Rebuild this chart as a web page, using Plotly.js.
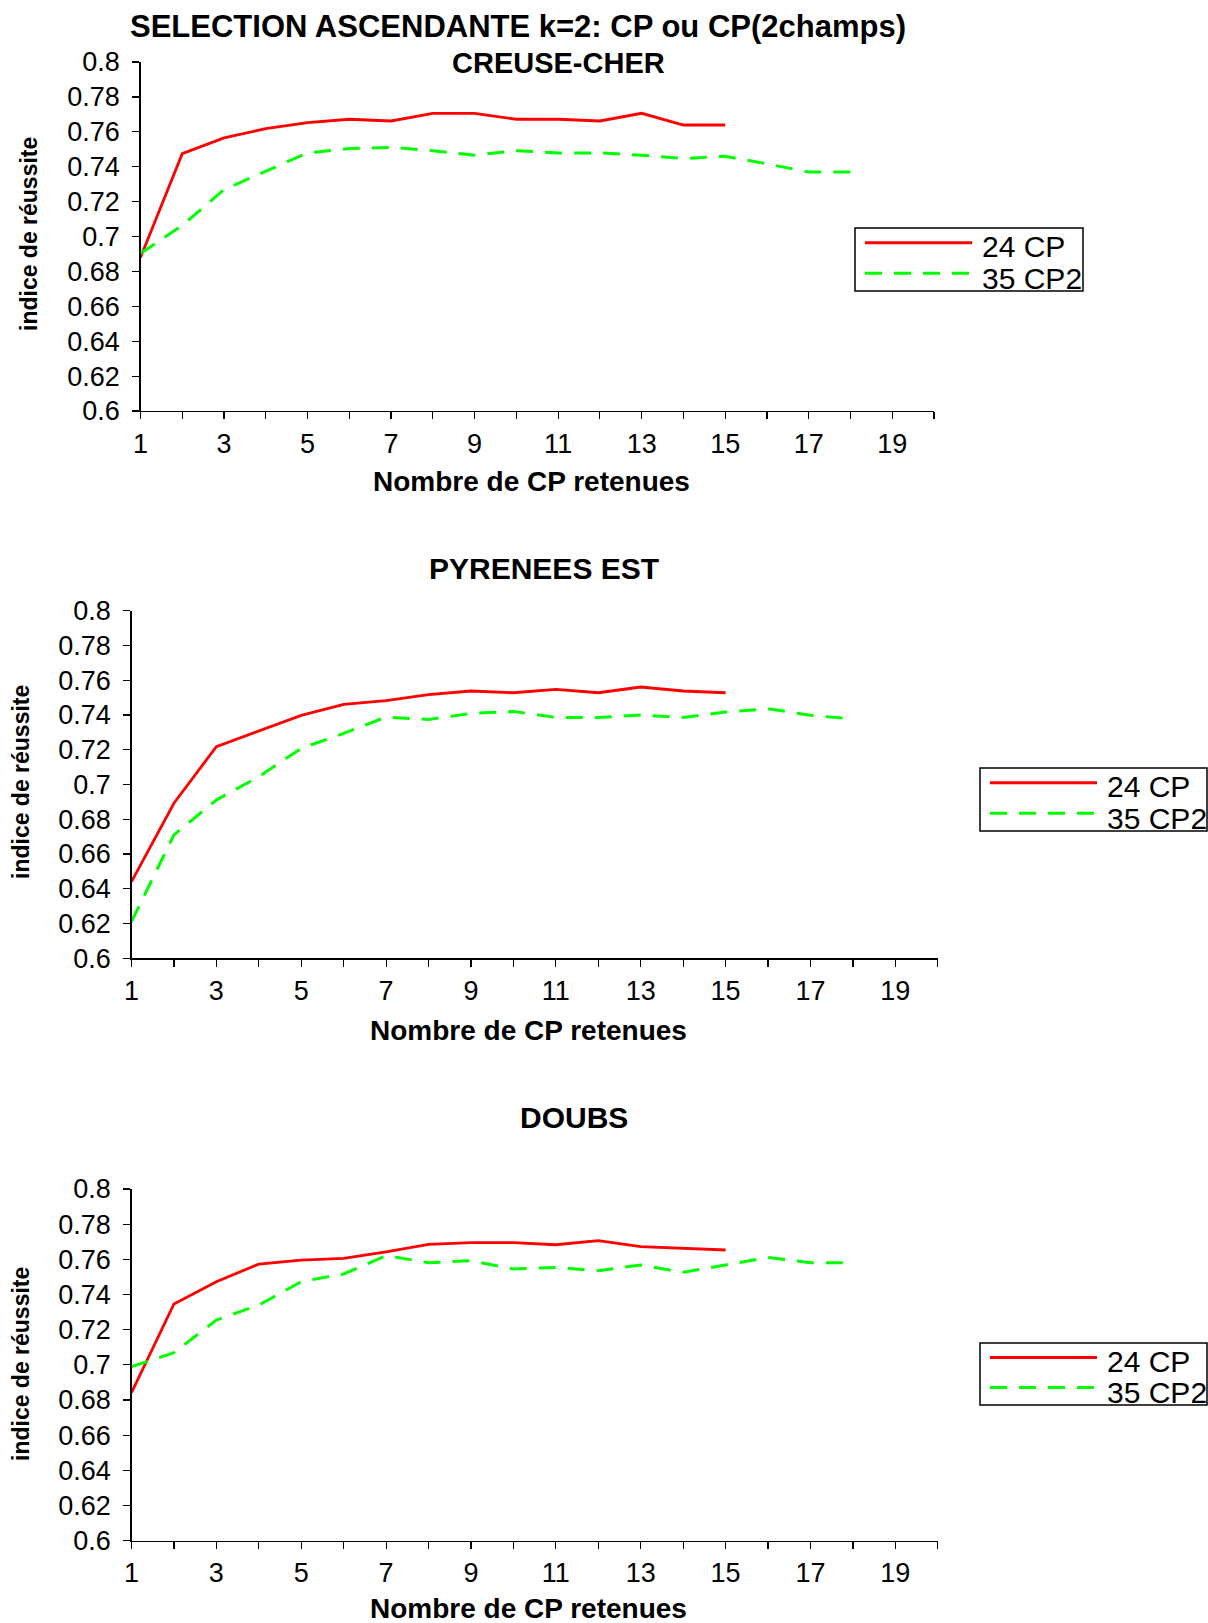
<!DOCTYPE html>
<html><head><meta charset="utf-8">
<script src="https://cdn.plot.ly/plotly-3.0.1.min.js"></script>
<style>html,body{margin:0;padding:0;background:#fff}</style>
</head><body><div id="chart" style="width:1208px;height:1623px"></div>
<script>
// ---- data ----
const nbCP = [1,2,3,4,5,6,7,8,9,10,11,12,13,14,15,16,17,18];
const seriesNames = ['24 CP', '35 CP2'];
const panelTitles = ['CREUSE-CHER', 'PYRENEES EST', 'DOUBS'];
const mainTitle = 'SELECTION ASCENDANTE k=2: CP ou CP(2champs)';
const xTitle = 'Nombre de CP retenues';
const yTitle = 'indice de réussite';

const creuseCP  = [0.688,0.7475,0.7565,0.7618,0.7653,0.7672,0.7662,0.7706,0.7706,0.7672,0.7672,0.7662,0.7706,0.7639,0.7639];
const creuseCP2 = [0.6903,0.7063,0.7269,0.7374,0.7479,0.7504,0.7511,0.7492,0.7466,0.7492,0.7479,0.7479,0.7466,0.7447,0.746,0.7416,0.737,0.737];
const pyrCP     = [0.6441,0.6892,0.7218,0.731,0.7398,0.7461,0.7482,0.7517,0.7538,0.7528,0.7547,0.7528,0.7561,0.7538,0.7528];
const pyrCP2    = [0.6211,0.671,0.6911,0.7045,0.7208,0.7294,0.7388,0.7374,0.7409,0.742,0.7386,0.7386,0.74,0.7386,0.7417,0.7436,0.7398,0.7377];
const doubsCP   = [0.6842,0.7346,0.7473,0.7573,0.7596,0.7606,0.7642,0.7685,0.7695,0.7695,0.7683,0.7706,0.7672,0.7663,0.7653];
const doubsCP2  = [0.699,0.7069,0.7255,0.734,0.7473,0.7517,0.7621,0.7581,0.7592,0.7545,0.7554,0.7535,0.7568,0.7526,0.7568,0.7611,0.7581,0.7581];

const xTickVals = [1,2,3,4,5,6,7,8,9,10,11,12,13,14,15,16,17,18,19,20];
const xTickText = ['1','','3','','5','','7','','9','','11','','13','','15','','17','','19',''];
const yTickVals = [0.6,0.62,0.64,0.66,0.68,0.7,0.72,0.74,0.76,0.78,0.8];
const yTickText = ['0.6','0.62','0.64','0.66','0.68','0.7','0.72','0.74','0.76','0.78','0.8'];

// ---- layout helpers ----
const W = 1208, H = 1623;
const px = v => v / W;
const py = v => 1 - v / H;
const FONT = 'Liberation Sans, Arial, sans-serif';
const RED = '#ff0000', GREEN = '#00ff00';

const panels = [
  {cp: creuseCP, cp2: creuseCP2, x0: 140.5, x1: 934, yTop: 62, yBot: 411,
   title: {x: 558, y: 63, size: 29}, xt: {x: 531, y: 481}, yt: {x: 29, y: 234},
   leg: {l: 855, t: 228, r: 1083, b: 291, ls: 865, le: 972, tx: 980}},
  {cp: pyrCP, cp2: pyrCP2, x0: 131.5, x1: 937.8, yTop: 610.7, yBot: 958.3,
   title: {x: 544, y: 568, size: 30}, xt: {x: 528, y: 1030}, yt: {x: 21, y: 782},
   leg: {l: 980, t: 768, r: 1207, b: 831, ls: 990, le: 1097, tx: 1105}},
  {cp: doubsCP, cp2: doubsCP2, x0: 131.5, x1: 937.8, yTop: 1189, yBot: 1540.7,
   title: {x: 574, y: 1117, size: 30}, xt: {x: 528, y: 1608}, yt: {x: 21, y: 1364},
   leg: {l: 980, t: 1343, r: 1207, b: 1405, ls: 990, le: 1097, tx: 1105}}
];

const data = [];
const layout = {
  width: W, height: H, margin: {l: 0, r: 0, t: 0, b: 0},
  paper_bgcolor: '#fff', plot_bgcolor: '#fff', showlegend: false,
  font: {family: FONT, color: '#000'},
  title: {text: mainTitle, x: px(518), xanchor: 'center', y: py(26), yanchor: 'middle',
          font: {family: FONT, size: 31, weight: 'bold', color: '#000'}},
  shapes: [], annotations: []
};

panels.forEach((p, i) => {
  const n = i + 1;
  const xa = n === 1 ? 'x' : 'x' + n;
  const ya = n === 1 ? 'y' : 'y' + n;
  const xk = n === 1 ? 'xaxis' : 'xaxis' + n;
  const yk = n === 1 ? 'yaxis' : 'yaxis' + n;
  data.push({x: nbCP.slice(0, p.cp.length), y: p.cp, xaxis: xa, yaxis: ya, type: 'scatter',
             mode: 'lines', name: seriesNames[0], line: {color: RED, width: 2.8}, cliponaxis: false});
  data.push({x: nbCP.slice(0, p.cp2.length), y: p.cp2, xaxis: xa, yaxis: ya, type: 'scatter',
             mode: 'lines', name: seriesNames[1], line: {color: GREEN, width: 3, dash: '17px,12px'}, cliponaxis: false});
  const dom = [px(p.x0), px(p.x1)], ydom = [py(p.yBot), py(p.yTop)];
  const common = {showgrid: false, zeroline: false, color: '#000', tickcolor: '#000', tickwidth: 1.2, ticklen: 7};
  layout[xk] = Object.assign({}, common, {domain: dom, anchor: ya, range: [1, 20], fixedrange: true,
    tickmode: 'array', tickvals: xTickVals, ticktext: xTickText, ticks: 'outside',
    showline: true, linecolor: '#000', linewidth: 1.2,
    tickfont: {family: FONT, size: 27, color: '#000'}, ticklabelstandoff: 1});
  layout[yk] = Object.assign({}, common, {domain: ydom, anchor: xa, range: [0.6, 0.8], fixedrange: true,
    tickmode: 'array', tickvals: yTickVals, ticktext: yTickText, ticks: 'outside',
    showline: true, linecolor: '#000', linewidth: 1.2,
    tickfont: {family: FONT, size: 27, color: '#000'}, ticklabelstandoff: 7});
  // overlay axes giving the inward half of the crossing tick marks
  layout['xaxis' + (n + 3)] = Object.assign({}, common, {overlaying: xa, anchor: ya, range: [1, 20],
    tickmode: 'array', tickvals: xTickVals, ticks: 'inside', showticklabels: false, showline: false, fixedrange: true});
  layout['yaxis' + (n + 3)] = Object.assign({}, common, {overlaying: ya, anchor: xa, range: [0.6, 0.8],
    tickmode: 'array', tickvals: yTickVals, ticks: 'inside', showticklabels: false, showline: false, fixedrange: true});

  // panel title & axis titles
  layout.annotations.push({text: '<b>' + panelTitles[i] + '</b>', xref: 'paper', yref: 'paper',
    x: px(p.title.x), y: py(p.title.y), xanchor: 'center', yanchor: 'middle', showarrow: false,
    font: {family: FONT, size: p.title.size, color: '#000'}});
  layout.annotations.push({text: '<b>' + xTitle + '</b>', xref: 'paper', yref: 'paper',
    x: px(p.xt.x), y: py(p.xt.y), xanchor: 'center', yanchor: 'middle', showarrow: false,
    font: {family: FONT, size: 28, color: '#000'}});
  layout.annotations.push({text: '<b>' + yTitle + '</b>', xref: 'paper', yref: 'paper',
    x: px(p.yt.x), y: py(p.yt.y), xanchor: 'center', yanchor: 'middle', showarrow: false, textangle: -90,
    font: {family: FONT, size: 23, color: '#000'}});

  // legend box
  const L = p.leg;
  const r1 = L.t + (L.b - L.t) * 0.25, r2 = L.t + (L.b - L.t) * 0.75;
  layout.shapes.push({type: 'rect', xref: 'paper', yref: 'paper', x0: px(L.l), x1: px(L.r),
    y0: py(L.b), y1: py(L.t), line: {color: '#000', width: 1.5}, fillcolor: '#fff', layer: 'above'});
  layout.shapes.push({type: 'line', xref: 'paper', yref: 'paper', x0: px(L.ls), x1: px(L.le),
    y0: py(r1 - 1), y1: py(r1 - 1), line: {color: RED, width: 3}, layer: 'above'});
  layout.shapes.push({type: 'line', xref: 'paper', yref: 'paper', x0: px(L.ls), x1: px(L.le),
    y0: py(r2 - 2), y1: py(r2 - 2), line: {color: GREEN, width: 3, dash: '17px,12px'}, layer: 'above'});
  layout.annotations.push({text: seriesNames[0], xref: 'paper', yref: 'paper', x: px(L.tx), y: py(r1 + 3),
    xanchor: 'left', yanchor: 'middle', showarrow: false, font: {family: FONT, size: 30, color: '#000'}});
  layout.annotations.push({text: seriesNames[1], xref: 'paper', yref: 'paper', x: px(L.tx), y: py(r2 + 3),
    xanchor: 'left', yanchor: 'middle', showarrow: false, font: {family: FONT, size: 30, color: '#000'}});
});

Plotly.newPlot('chart', data, layout, {staticPlot: true, displayModeBar: false});
</script>
</body></html>
